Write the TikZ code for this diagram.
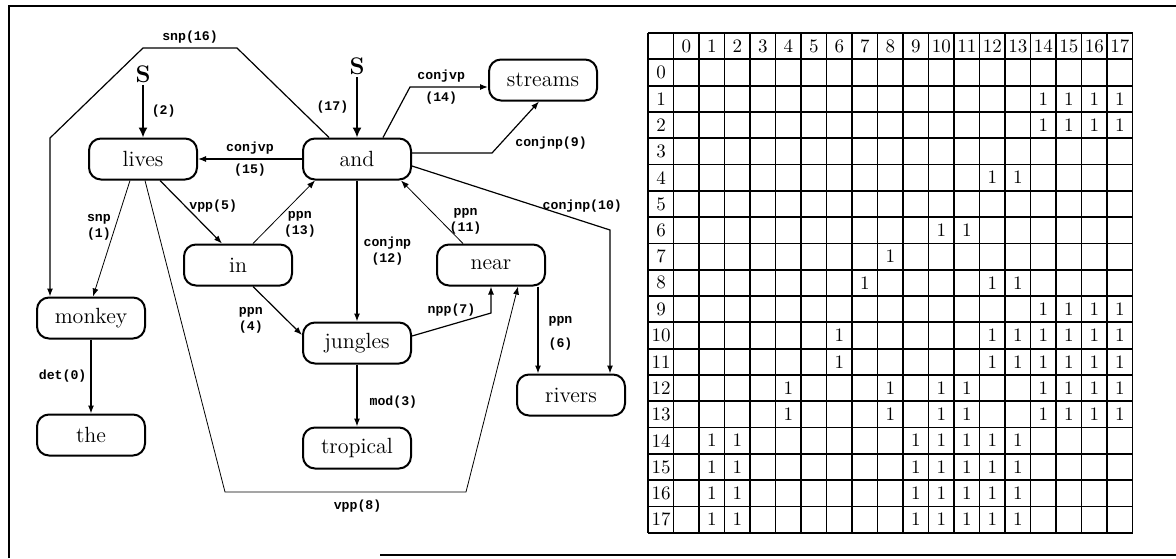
\documentclass[tikz,border=0pt]{standalone}
\usepackage{fontspec}
\setmonofont{Liberation Mono}
\usepackage{tikz}
\usetikzlibrary{arrows.meta,calc}

\begin{document}
\begin{tikzpicture}[x=0.5pt,y=-0.5pt,>={Latex[length=4pt,width=3pt]},
  word/.style = {draw,line width=1pt,rounded corners=6pt,minimum width=54pt,minimum height=20.5pt,inner sep=0pt,font=\fontsize{11}{13}\selectfont},
  lbl/.style = {font=\ttfamily\bfseries\fontsize{6.6}{8}\selectfont,inner sep=2pt,align=center},
  dep/.style = {->,semithick},
  root/.style = {font=\bfseries\large,inner sep=1pt},
  cell/.style = {font=\fontsize{9.5}{11}\selectfont,inner sep=0pt}]

\useasboundingbox (0,0) rectangle (1176,558);
\draw[line width=1pt] (9,558) -- (9,6) -- (1176,6);
\draw[semithick] (380,555) -- (1176,555);

\node[word] (lives) at (143,159) {lives};
\node[word] (and) at (357,159) {and};
\node[word] (streams) at (543,80) {streams};
\node[word] (in) at (238,265) {in};
\node[word] (near) at (491,265) {near};
\node[word] (monkey) at (91,318) {monkey};
\node[word] (the) at (91,435) {the};
\node[word] (jungles) at (357,343) {jungles};
\node[word] (tropical) at (357,448) {tropical};
\node[word] (rivers) at (571,395) {rivers};
\node[root] (s1) at (143,74) {S};
\node[root] (s2) at (357,66) {S};

\draw[->,thick,>={Latex[length=5pt,width=4.5pt]}] (s1) -- node[lbl,right=2pt] {(2)} (lives);
\draw[->,thick,>={Latex[length=5pt,width=4.5pt]}] (s2) -- node[lbl,left=2pt] {(17)} (and);

\draw[dep] ($(and.north)+(-28,0)$) -- (237,48) -- node[lbl,above] {snp(16)} (143,48) -- (50,138) -- ($(monkey.north)+(-41,0)$);
\draw[dep] (and) -- node[lbl,above] {conjvp} node[lbl,below] {(15)} (lives);
\draw[dep,thin] ($(lives.south)+(-13,0)$) -- node[lbl,left,pos=.4] {snp\\(1)} ($(monkey.north)+(2,0)$);
\draw[dep] ($(lives.south)+(17,0)$) -- node[lbl,right,pos=.4] {vpp(5)} ($(in.north)+(-16,0)$);
\draw[dep,thin] ($(lives.south)+(2,0)$) -- (225,492) -- node[lbl,below,pos=.55,yshift=-2pt] {vpp(8)} (466,492) -- ($(near.south)+(27,0)$);
\draw[dep,thin] ($(in.north)+(15,0)$) -- node[lbl,right=4pt,pos=.3] {ppn\\(13)} ($(and.south west)+(13,0)$);
\draw[dep] ($(in.south)+(15,0)$) -- node[lbl,left=10pt,pos=.7] {ppn\\(4)} ($(jungles.west)+(0,-8)$);
\draw[dep] (and) -- node[lbl,right=1pt] {conjnp\\(12)} (jungles);
\draw[dep,thin] ($(near.north)+(-28,0)$) -- node[lbl,right=2pt,pos=.35] {ppn\\(11)} ($(and.south east)+(-11,0)$);
\draw[dep] ($(and.north)+(26,0)$) -- (410,87) -- node[lbl,above,pos=.4] {conjvp} node[lbl,below,pos=.4] {(14)} ($(streams.west)+(0,7)$);
\draw[dep] ($(and.east)+(0,-6)$) -- (492,153) -- node[lbl,below right,pos=.4] {conjnp(9)} ($(streams.south)+(-4,0)$);
\draw[dep] ($(and.east)+(0,7)$) -- node[lbl,above,pos=.86,yshift=2pt] {conjnp(10)} (610,230) -- ($(rivers.north)+(39,0)$);
\draw[dep] ($(jungles.east)+(0,-7)$) -- node[lbl,above,yshift=2pt] {npp(7)} (491,313) -- (near.south);
\draw[dep] ($(near.south)+(47,0)$) -- node[lbl,right=3pt,pos=.4] {ppn} node[lbl,right=3pt,pos=.66] {(6)} ($(rivers.north)+(-33,0)$);
\draw[dep] (jungles) -- node[lbl,right=4pt,pos=.6] {mod(3)} (tropical);
\draw[dep] (monkey) -- node[lbl,left] {det(0)} (the);

\foreach \k in {0,...,19} {
  \draw[line width=0.9pt] ({648+25.5*\k},33) -- ({648+25.5*\k},533);
  \draw[line width=0.9pt] (648,{33+26.3*\k}) -- (1133,{33+26.3*\k});
}
\foreach \c in {0,...,17}
  \node[cell] (h\c) at ({648+25.5*(\c+1)+12.75},46) {\c};
\foreach \r in {0,...,17}
  \node[cell] (r\r) at (661,{33+26.3*(\r+1)+13.15}) {\r};
\foreach \r/\cs in {1/{14,15,16,17},2/{14,15,16,17},4/{12,13},6/{10,11},7/{8},8/{7,12,13},9/{14,15,16,17},
    10/{6,12,13,14,15,16,17},11/{6,12,13,14,15,16,17},12/{4,8,10,11,14,15,16,17},13/{4,8,10,11,14,15,16,17},
    14/{1,2,9,10,11,12,13},15/{1,2,9,10,11,12,13},16/{1,2,9,10,11,12,13},17/{1,2,9,10,11,12,13}}
  \foreach \c in \cs
    \node[cell] (e\r-\c) at ({648+25.5*(\c+1)+12.75},{33+26.3*(\r+1)+13.15}) {1};

\end{tikzpicture}
\end{document}
